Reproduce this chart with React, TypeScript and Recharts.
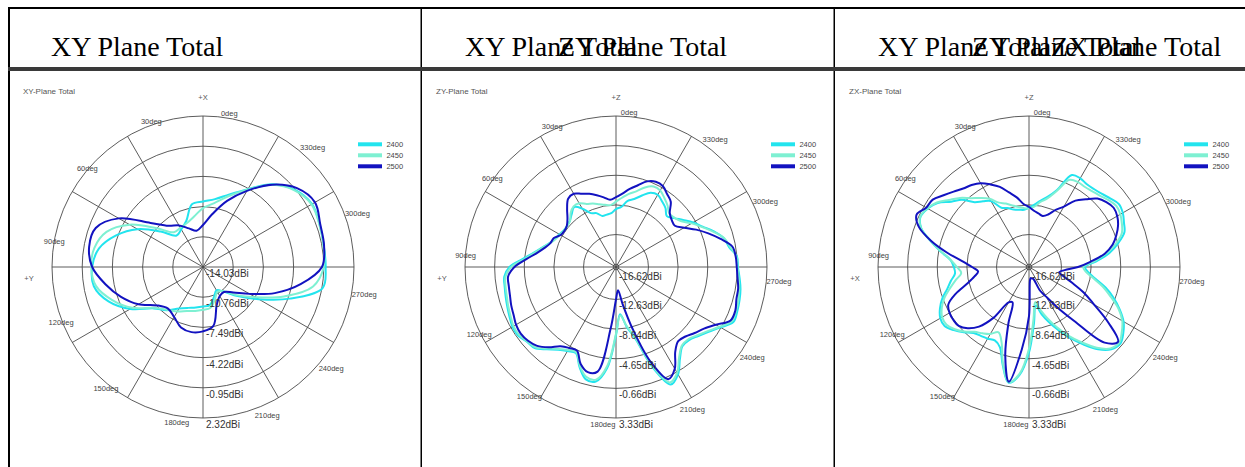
import React from "react";
import {
  Legend,
  PolarAngleAxis,
  PolarGrid,
  PolarRadiusAxis,
  Radar,
  RadarChart,
} from "recharts";

// 0deg at the top, counter-clockwise, as in the measurement plots
const ANGLES_10 = [
  0, 10, 20, 30, 40, 50, 60, 70, 80, 90, 100, 110, 120, 130, 140, 150, 160, 170,
  180, 190, 200, 210, 220, 230, 240, 250, 260, 270, 280, 290, 300, 310, 320, 330,
  340, 350,
];
const ANGLES_5 = [
  0, 5, 10, 15, 20, 25, 30, 35, 40, 45, 50, 55, 60, 65, 70, 75, 80, 85, 90, 95,
  100, 105, 110, 115, 120, 125, 130, 135, 140, 145, 150, 155, 160, 165, 170, 175,
  180, 185, 190, 195, 200, 205, 210, 215, 220, 225, 230, 235, 240, 245, 250, 255,
  260, 265, 270, 275, 280, 285, 290, 295, 300, 305, 310, 315, 320, 325, 330, 335,
  340, 345, 350, 355,
];
const LABEL_ANGLES = [0, 30, 60, 90, 120, 150, 180, 210, 240, 270, 300, 330];
const FREQS = ["2400", "2450", "2500"];

const XY_TICKS = [-14.03, -10.76, -7.49, -4.22, -0.95, 2.32];
const ZY_TICKS = [-16.62, -12.63, -8.64, -4.65, -0.66, 3.33];
const ZX_TICKS = [-16.62, -12.63, -8.64, -4.65, -0.66, 3.33];

// gain in dBi, XY plane every 10deg
const XY_2400 = [
  -7.13, -8.73, -9.32, -9.58, -8.05, -5.85, -4.02, -2.58, -2.03, -2.03, -3.14, -4.94,
  -7.06, -7.92, -8.83, -9.32, -9.58, -9.75, -9.84, -10.56, -11.12, -10.56, -9.12, -7.06,
  -4.02, -0.88, -0.75, -0.75, -0.59, -0.39, -1.02, -2.32, -4.29, -5.66, -6.57, -6.93,
];
const XY_2450 = [
  -8.47, -8.96, -9.12, -9.12, -7.49, -4.87, -2.91, -2.09, -1.93, -2.26, -3.57, -5.2,
  -7.16, -7.98, -8.47, -8.96, -9.19, -9.39, -9.52, -10.27, -10.92, -10.6, -9.29, -7.49,
  -4.71, -1.93, -0.95, -0.79, -0.62, -0.46, -1.11, -2.42, -4.38, -5.85, -7.0, -7.65,
];
const XY_2500 = [
  -10.04, -9.58, -8.83, -8.21, -6.61, -3.5, -1.67, -1.51, -2.03, -3.3, -4.58, -5.95,
  -7.56, -8.14, -7.78, -7.06, -6.87, -7.06, -7.56, -9.68, -10.4, -10.5, -9.75, -8.21,
  -5.76, -3.3, -1.15, -0.72, -0.52, -0.03, -0.75, -2.39, -4.51, -6.41, -8.21, -9.48,
];

// ZY and ZX planes every 5deg
const ZY_2400 = [
  -9.72, -9.84, -9.88, -9.28, -9.0, -7.92, -7.16, -7.72, -8.2, -8.4, -8.4, -8.2,
  -7.96, -7.52, -6.76, -5.77, -4.41, -2.66, -1.9, -1.78, -1.62, -1.42, -1.18, -0.9,
  -0.9, -1.34, -1.54, -2.54, -3.41, -3.93, -4.21, -2.66, -1.34, -1.34, -3.33, -7.84,
  -10.63, -8.88, -7.08, -2.66, 0.46, -0.3, -1.98, -3.09, -3.09, -2.54, -1.78, -0.74,
  0.46, 0.38, 0.22, 0.02, -0.3, -0.58, -0.66, -1.54, -1.98, -2.97, -4.13, -5.01,
  -5.97, -6.76, -7.32, -6.64, -6.21, -5.77, -5.97, -6.76, -7.52, -7.96, -8.88, -9.2,
];
const ZY_2450 = [
  -8.64, -8.5, -8.24, -7.9, -7.64, -7.1, -7.04, -7.5, -8.24, -8.4, -8.44, -8.3,
  -8.04, -7.56, -6.84, -5.9, -4.65, -2.9, -2.06, -1.9, -1.78, -1.56, -1.34, -1.06,
  -1.06, -1.42, -1.7, -2.66, -3.53, -4.1, -4.33, -2.8, -1.66, -1.6, -3.65, -8.0,
  -10.44, -9.0, -7.3, -2.9, 0.14, -0.55, -2.18, -3.2, -3.25, -2.7, -1.94, -0.9,
  0.22, 0.2, 0.06, -0.15, -0.42, -0.66, -0.74, -1.4, -1.94, -3.1, -4.25, -5.25,
  -6.25, -6.7, -6.84, -6.2, -5.65, -5.1, -5.05, -5.6, -6.45, -7.0, -7.64, -8.2,
];
const ZY_2500 = [
  -7.92, -7.48, -7.0, -6.52, -6.13, -5.61, -5.77, -6.76, -7.76, -8.36, -8.52, -8.4,
  -7.76, -7.6, -7.04, -6.17, -4.89, -3.33, -2.42, -2.34, -2.22, -1.98, -1.78, -1.46,
  -1.34, -1.54, -1.98, -2.89, -3.97, -4.41, -4.57, -3.09, -2.34, -2.7, -8.64, -12.63,
  -13.87, -11.99, -8.4, -3.45, -0.34, -1.18, -3.09, -3.97, -3.77, -3.18, -2.54, -1.46,
  0.02, 0.1, -0.22, -0.3, -0.58, -0.74, -0.82, -1.1, -2.42, -3.77, -5.09, -6.41,
  -7.32, -7.2, -6.76, -5.53, -5.01, -4.41, -4.33, -4.73, -5.61, -6.33, -7.08, -7.6,
];

const ZX_2400 = [
  -9.28, -9.16, -9.0, -8.56, -8.2, -6.76, -6.21, -5.61, -4.21, -3.33, -1.98, -1.26,
  -0.9, -1.54, -3.21, -4.89, -6.41, -6.88, -7.0, -6.33, -5.61, -4.57, -3.77, -3.21,
  -3.13, -3.77, -4.57, -5.41, -5.69, -5.85, -6.09, -5.53, -3.33, -1.18, -2.42, -5.49,
  -9.36, -11.75, -10.4, -9.08, -7.6, -5.97, -4.29, -2.54, -1.34, -0.95, -1.5, -2.3,
  -3.53, -4.89, -6.33, -7.92, -8.99, -9.44, -7.84, -5.97, -4.57, -3.33, -2.89, -2.42,
  -2.22, -2.66, -3.09, -3.33, -3.41, -3.21, -3.33, -5.97, -7.2, -7.92, -8.56, -8.99,
];
const ZX_2450 = [
  -9.04, -8.8, -8.44, -7.9, -7.44, -6.4, -5.65, -4.9, -3.85, -2.95, -1.86, -1.2,
  -0.86, -1.5, -3.25, -5.0, -6.45, -7.3, -7.84, -7.0, -6.0, -4.9, -4.05, -3.5,
  -3.45, -3.95, -4.7, -5.6, -6.1, -6.6, -7.3, -6.2, -3.5, -1.25, -2.6, -6.0,
  -10.0, -12.2, -11.0, -9.6, -8.0, -6.3, -4.6, -2.8, -1.5, -1.15, -1.75, -2.5,
  -3.7, -5.3, -6.7, -8.2, -9.3, -9.7, -8.2, -6.4, -4.9, -3.7, -3.2, -2.8,
  -2.65, -3.0, -3.45, -3.7, -3.85, -3.8, -4.05, -6.1, -7.44, -8.1, -8.84, -9.1,
];
const ZX_2500 = [
  -8.48, -7.48, -6.61, -5.53, -4.73, -3.97, -3.53, -3.21, -2.65, -1.98, -1.18, -1.02,
  -0.3, -1.22, -3.33, -5.77, -7.96, -9.32, -10.12, -9.52, -8.4, -6.52, -5.01, -4.65,
  -4.57, -4.65, -5.33, -6.53, -8.64, -11.51, -11.75, -8.88, -4.65, -1.32, -5.85, -10.4,
  -15.3, -15.5, -15.4, -15.3, -13.51, -12.39, -10.4, -7.52, -2.6, -1.34, -3.97, -6.88,
  -8.88, -10.87, -12.19, -12.87, -12.19, -10.4, -8.64, -6.65, -5.33, -4.49, -3.77, -3.29,
  -3.09, -3.41, -3.97, -5.09, -6.09, -7.6, -8.52, -9.48, -9.88, -9.68, -9.4, -8.92,
];

const PLANES = [
  { title: "XY-Plane Total", up: "+X", side: "+Y", angles: ANGLES_10, ticks: XY_TICKS, series: [XY_2400, XY_2450, XY_2500] },
  { title: "ZY-Plane Total", up: "+Z", side: "+Y", angles: ANGLES_5, ticks: ZY_TICKS, series: [ZY_2400, ZY_2450, ZY_2500] },
  { title: "ZX-Plane Total", up: "+Z", side: "+X", angles: ANGLES_5, ticks: ZX_TICKS, series: [ZX_2400, ZX_2450, ZX_2500] },
];

const HEADERS = [
  ["XY Plane Total"],
  ["XY Plane Total", "ZY Plane Total"],
  ["XY Plane Total", "ZY Plane Total", "ZX Plane Total"],
];

// layout
const COLORS = ["#22e4ee", "#7ef0d2", "#1212c0"];
const SANS = "'Liberation Sans', Arial, sans-serif";
const SERIF = "'Liberation Serif', 'Times New Roman', serif";
const CELL_W = 413;
const CHART_LEFT = 10;
const CHART_TOP = 70;
const CHART_W = 410;
const CHART_H = 397;
const CX = 193;
const CY = 197;
const R = 151;
const TICK_SIZE = 2;
const HEADER_X = [[51], [465, 558], [878, 972, 1051]];

type Pt = { x: number; y: number };

// centripetal catmull-rom through the radar points, closed
const smoothClosedPath = (pts: Pt[]) => {
  const n = pts.length;
  if (n < 3) return "";
  const at = (i: number) => pts[(i + n) % n];
  let d = `M${pts[0].x},${pts[0].y}`;
  for (let i = 0; i < n; i++) {
    const p0 = at(i - 1);
    const p1 = at(i);
    const p2 = at(i + 1);
    const p3 = at(i + 2);
    const d1 = Math.sqrt(Math.hypot(p1.x - p0.x, p1.y - p0.y)) || 1e-6;
    const d2 = Math.sqrt(Math.hypot(p2.x - p1.x, p2.y - p1.y)) || 1e-6;
    const d3 = Math.sqrt(Math.hypot(p3.x - p2.x, p3.y - p2.y)) || 1e-6;
    const a = 3 * d1 * (d1 + d2);
    const b = 3 * d3 * (d3 + d2);
    const k1 = 2 * d1 * d1 + 3 * d1 * d2 + d2 * d2;
    const k2 = 2 * d3 * d3 + 3 * d3 * d2 + d2 * d2;
    const c1x = (d1 * d1 * p2.x - d2 * d2 * p0.x + k1 * p1.x) / a;
    const c1y = (d1 * d1 * p2.y - d2 * d2 * p0.y + k1 * p1.y) / a;
    const c2x = (d3 * d3 * p1.x - d2 * d2 * p3.x + k2 * p2.x) / b;
    const c2y = (d3 * d3 * p1.y - d2 * d2 * p3.y + k2 * p2.y) / b;
    d += ` C${c1x},${c1y} ${c2x},${c2y} ${p2.x},${p2.y}`;
  }
  return d + "Z";
};

const smoothShape = (color: string) => (props: any) =>
  <path d={smoothClosedPath(props.points || [])} fill="none" stroke={color} strokeWidth={2} />;

const toRows = (angles: number[], series: number[][]) =>
  angles.map((deg, i) => {
    const row: Record<string, number> = { deg };
    FREQS.forEach((f, k) => {
      row["f" + f] = series[k][i];
    });
    return row;
  });

const AngleTick = (props: any) => {
  const { x, y, payload } = props;
  const deg = Number(payload.value);
  if (!LABEL_ANGLES.includes(deg)) return <g />;
  const a = (payload.coordinate * Math.PI) / 180;
  const ex = x - TICK_SIZE * Math.cos(a);
  const ey = y + TICK_SIZE * Math.sin(a);
  const c = Math.cos((deg * Math.PI) / 180);
  const right = deg > 180;
  return (
    <text
      x={ex}
      y={ey + 3.7 - 5.7 * c}
      textAnchor={right ? "start" : "middle"}
      fontSize={7.5}
      fill="#444"
      fontFamily={SANS}
    >
      {deg}deg
    </text>
  );
};

const RadiusTick = (props: any) => {
  const { x, y, payload } = props;
  return (
    <text x={x + 3} y={y + 10} fontSize={10} fill="#333" fontFamily={SANS}>
      {Number(payload.value).toFixed(2)}dBi
    </text>
  );
};

const LegendBox = (props: any) => {
  const items = props.payload || [];
  return (
    <svg width={60} height={34} style={{ display: "block" }}>
      {items.map((p: any, i: number) => {
        const idx = FREQS.indexOf(String(p.value));
        return (
          <g key={String(p.value)}>
            <line
              x1={0}
              x2={24}
              y1={4.3 + 11 * i}
              y2={4.3 + 11 * i}
              stroke={COLORS[idx]}
              strokeWidth={4}
            />
            <text x={28.4} y={7 + 11 * i} fontSize={7.5} fill="#444" fontFamily={SANS}>
              {p.value}
            </text>
          </g>
        );
      })}
    </svg>
  );
};

const PlaneChart = ({ plane }: { plane: (typeof PLANES)[number] }) => (
  <RadarChart
    width={CHART_W}
    height={CHART_H}
    cx={CX}
    cy={CY}
    outerRadius={R}
    startAngle={90}
    endAngle={450}
    data={toRows(plane.angles, plane.series)}
    style={{ overflow: "visible" }}
  >
    <PolarGrid
      gridType="circle"
      stroke="#4a4a4a"
      strokeWidth={0.9}
      polarAngles={LABEL_ANGLES.map(d => 90 + d)}
    />
    <PolarAngleAxis
      dataKey="deg"
      axisLine={false}
      tickLine={false}
      tickSize={TICK_SIZE}
      tick={AngleTick}
    />
    <PolarRadiusAxis
      type="number"
      angle={270}
      domain={[plane.ticks[0], plane.ticks[plane.ticks.length - 1]]}
      ticks={plane.ticks}
      axisLine={false}
      tickLine={false}
      tick={RadiusTick}
    />
    {FREQS.map((f, i) => (
      <Radar
        key={f}
        dataKey={"f" + f}
        name={f}
        stroke={COLORS[i]}
        strokeWidth={2}
        fill="none"
        fillOpacity={0}
        dot={false}
        shape={smoothShape(COLORS[i])}
        isAnimationActive={false}
      />
    ))}
    <Legend
      content={LegendBox}
      layout="vertical"
      verticalAlign="top"
      align="right"
      wrapperStyle={{ left: CX + 155, top: 70, width: 60 }}
    />
  </RadarChart>
);

export default function App() {
  return (
    <div
      style={{
        position: "absolute",
        left: 0,
        top: 0,
        width: 1245,
        height: 467,
        overflow: "hidden",
        background: "#fff",
      }}
    >
      {PLANES.map((plane, k) => (
        <div
          key={plane.title}
          style={{ position: "absolute", left: CHART_LEFT + CELL_W * k, top: CHART_TOP }}
        >
          <PlaneChart plane={plane} />
        </div>
      ))}
      <svg
        width={1245}
        height={467}
        style={{ position: "absolute", left: 0, top: 0, pointerEvents: "none" }}
      >
        <rect x={8} y={7} width={1237} height={2} fill="#000" />
        <rect x={8} y={7} width={2} height={460} fill="#000" />
        <rect x={420.5} y={7} width={1.5} height={460} fill="#000" />
        <rect x={833.5} y={7} width={1.5} height={460} fill="#000" />
        <rect x={8} y={67} width={1237} height={4} fill="#3a3a3a" />
        {HEADERS.map((texts, k) =>
          texts.map((t, j) => (
            <text
              key={k + "-" + j}
              x={HEADER_X[k][j]}
              y={56}
              fontSize={28}
              fontFamily={SERIF}
              fill="#000"
            >
              {t}
            </text>
          ))
        )}
        {PLANES.map((plane, k) => {
          const ox = CHART_LEFT + CELL_W * k;
          return (
            <g key={plane.title} fontFamily={SANS} fill="#555">
              <text x={ox + 13} y={94} fontSize={8}>
                {plane.title}
              </text>
              <text x={ox + CX} y={99.5} fontSize={7.5} textAnchor="middle">
                {plane.up}
              </text>
              <text x={ox + CX - 174} y={280.5} fontSize={7.5} textAnchor="middle">
                {plane.side}
              </text>
            </g>
          );
        })}
      </svg>
    </div>
  );
}
